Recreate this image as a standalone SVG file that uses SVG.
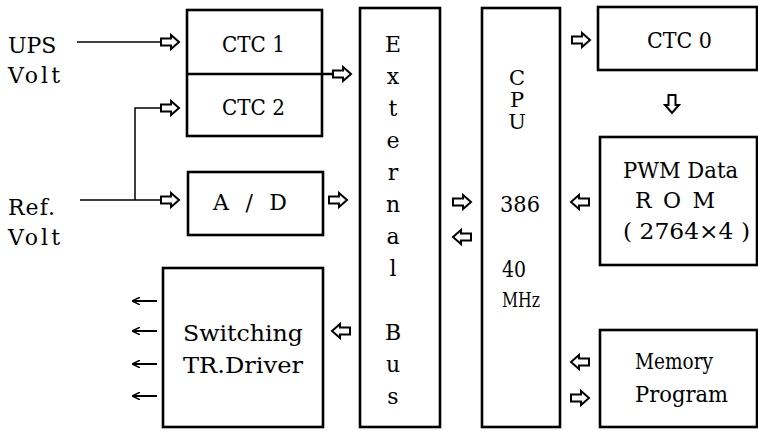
<svg xmlns="http://www.w3.org/2000/svg" width="758" height="431" viewBox="0 0 758 431">
<style>
.box{fill:#fff;stroke:#000;stroke-width:2.6}
text{font-family:'DejaVu Serif','Liberation Serif',serif;font-size:22px;fill:#000}
.c{text-anchor:middle}
.ln{fill:none;stroke:#000;stroke-width:1.5}
.ar{fill:#fff;stroke:#000;stroke-width:2;stroke-linejoin:miter}
.thin{fill:none;stroke:#000;stroke-width:2}
</style>
<defs>
<path id="ba" d="M-9,-3.5 H1 V-7 L9,0 L1,7 V3.5 H-9 Z"/>
<marker id="mh" viewBox="0 0 10 10" refX="9" refY="5" markerWidth="8" markerHeight="8" markerUnits="userSpaceOnUse" orient="auto">
<path d="M0,0 L10,5 L0,10" fill="none" stroke="#000" stroke-width="1.8"/>
</marker>
</defs>
<rect width="758" height="431" fill="#fff"/>

<g id="ctc12">
<rect class="box" x="187" y="10" width="135" height="126"/>
<text x="222" y="52" textLength="63" lengthAdjust="spacingAndGlyphs">CTC 1</text>
<text x="222" y="115" textLength="63" lengthAdjust="spacingAndGlyphs">CTC 2</text>
</g>
<g id="ad">
<rect class="box" x="188" y="172" width="135" height="63"/>
<text x="213" y="210" textLength="74" lengthAdjust="spacing">A / D</text>
</g>
<g id="switching">
<rect class="box" x="163" y="268" width="160" height="159"/>
<text x="183" y="341" textLength="120" lengthAdjust="spacingAndGlyphs">Switching</text>
<text x="183" y="373" textLength="120" lengthAdjust="spacingAndGlyphs">TR.Driver</text>
</g>
<g id="bus">
<rect class="box" x="360" y="8" width="80" height="419"/>
<text class="c" x="393" y="52">E</text>
<text class="c" x="393" y="84">x</text>
<text class="c" x="393" y="116">t</text>
<text class="c" x="393" y="148">e</text>
<text class="c" x="393" y="180">r</text>
<text class="c" x="393" y="212">n</text>
<text class="c" x="393" y="244">a</text>
<text class="c" x="393" y="276">l</text>
<text class="c" x="393" y="340">B</text>
<text class="c" x="393" y="372">u</text>
<text class="c" x="393" y="404">s</text>
</g>
<g id="cpu">
<rect class="box" x="482" y="8" width="78" height="419"/>
<text class="c" x="517" y="85" style="font-size:21px">C</text>
<text class="c" x="517" y="107" style="font-size:21px">P</text>
<text class="c" x="517" y="129" style="font-size:21px">U</text>
<text x="500" y="212" textLength="40" lengthAdjust="spacingAndGlyphs">386</text>
<text x="502" y="277" textLength="24" lengthAdjust="spacingAndGlyphs">40</text>
<text x="502" y="307" textLength="38" lengthAdjust="spacingAndGlyphs" style="font-size:21px">MHz</text>
</g>
<g id="ctc0">
<rect class="box" x="598" y="7" width="159" height="63"/>
<text x="647" y="48" textLength="65" lengthAdjust="spacingAndGlyphs">CTC 0</text>
</g>
<g id="pwm">
<rect class="box" x="600" y="137" width="157" height="128"/>
<text x="623" y="178" textLength="115" lengthAdjust="spacingAndGlyphs">PWM Data</text>
<text x="635" y="208" textLength="80" lengthAdjust="spacing">R O M</text>
<text x="623" y="239" textLength="127" lengthAdjust="spacingAndGlyphs">( 2764×4 )</text>
</g>
<g id="memory">
<rect class="box" x="600" y="330" width="157" height="97"/>
<text x="635" y="369" textLength="78" lengthAdjust="spacingAndGlyphs">Memory</text>
<text x="635" y="402" textLength="93" lengthAdjust="spacingAndGlyphs">Program</text>
</g>
<g id="inputs">
<text x="8" y="53">UPS</text>
<text x="8" y="83" textLength="52" lengthAdjust="spacing">Volt</text>
<text x="8" y="215" textLength="47" lengthAdjust="spacing">Ref.</text>
<text x="8" y="245" textLength="52" lengthAdjust="spacing">Volt</text>
</g>

<g id="connectors">
<path class="ln" d="M77,42 H161"/>
<path class="ln" d="M80,200 H161 M135,200 V108 H161"/>
<path class="ln" d="M187,74 H333" style="stroke-width:2.6"/>
<use href="#ba" class="ar" transform="translate(170,42)"/>
<use href="#ba" class="ar" transform="translate(170,108)"/>
<use href="#ba" class="ar" transform="translate(170,200)"/>
<use href="#ba" class="ar" transform="translate(342,74)"/>
<use href="#ba" class="ar" transform="translate(338,200)"/>
<use href="#ba" class="ar" transform="translate(341,331) rotate(180)"/>
<use href="#ba" class="ar" transform="translate(462,202)"/>
<use href="#ba" class="ar" transform="translate(462,237) rotate(180)"/>
<use href="#ba" class="ar" transform="translate(581,40)"/>
<use href="#ba" class="ar" transform="translate(672,104) rotate(90)"/>
<use href="#ba" class="ar" transform="translate(580,202) rotate(180)"/>
<use href="#ba" class="ar" transform="translate(580,362) rotate(180)"/>
<use href="#ba" class="ar" transform="translate(580,398)"/>
<path class="thin" d="M157,301 H133" marker-end="url(#mh)"/>
<path class="thin" d="M157,331 H133" marker-end="url(#mh)"/>
<path class="thin" d="M157,364 H133" marker-end="url(#mh)"/>
<path class="thin" d="M157,396 H133" marker-end="url(#mh)"/>
</g>
</svg>
